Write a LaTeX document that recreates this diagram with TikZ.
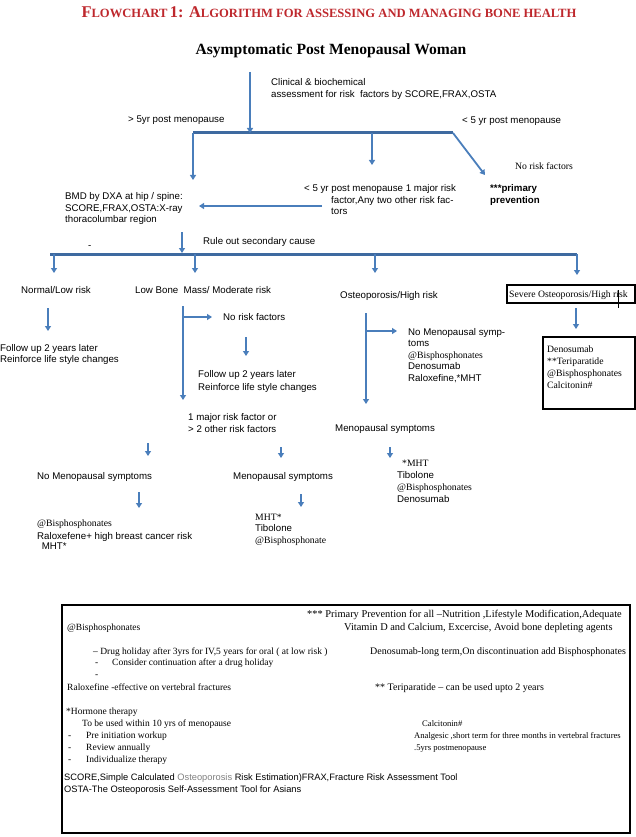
\documentclass[tikz,border=0pt]{standalone}
\usepackage{fontspec}
\setmainfont{Liberation Serif}
\setsansfont{Liberation Sans}
\usetikzlibrary{arrows.meta}
\definecolor{arrowblue}{RGB}{74,126,187}
\definecolor{barblue}{RGB}{62,106,160}
\definecolor{titlered}{RGB}{190,40,45}
\newcommand{\myfs}{\fontsize{9.7}{11}\selectfont}
\newcommand{\boxfs}{\fontsize{9.5}{11}\selectfont}
\newcommand{\boxfsL}{\fontsize{10.4}{12}\selectfont}
\newcommand{\boxfsM}{\fontsize{10}{12}\selectfont}
\newcommand{\boxfsS}{\fontsize{8.6}{11}\selectfont}
\newcommand{\bigc}[1]{{\fontsize{16.4}{17}\selectfont #1}}
\newcommand{\smc}[1]{{\fontsize{12.6}{17}\selectfont #1}}
\tikzset{
  sf/.style={inner sep=0pt, anchor=base west, font=\sffamily\myfs},
  sfb/.style={inner sep=0pt, anchor=base west, font=\sffamily\bfseries\myfs},
  rm/.style={inner sep=0pt, anchor=base west, font=\rmfamily\myfs},
  rmb/.style={inner sep=0pt, anchor=base west, font=\rmfamily\boxfs},
  rmbL/.style={inner sep=0pt, anchor=base west, font=\rmfamily\boxfsL},
  rmbM/.style={inner sep=0pt, anchor=base west, font=\rmfamily\boxfsM},
  rmbS/.style={inner sep=0pt, anchor=base west, font=\rmfamily\boxfsS},
  sfs/.style={inner sep=0pt, anchor=base west, font=\sffamily\fontsize{9.3}{11}\selectfont},
  arr/.style={draw=arrowblue, line width=1.8pt, -{Triangle[width=6pt,length=5pt]}},
  barline/.style={draw=barblue, line width=3pt},
  frame/.style={draw=black, line width=1.1pt},
}
\begin{document}
\begin{tikzpicture}[x=1pt,y=-1pt]
\useasboundingbox (0,0) rectangle (636,837);
% titles
\node[inner sep=0pt, anchor=base, text=titlered, font=\rmfamily\bfseries] (title) at (329,18)
  {\bigc{F}\smc{LOWCHART} \bigc{1: A}\smc{LGORITHM FOR ASSESSING AND MANAGING BONE HEALTH}};
\node[inner sep=0pt, anchor=base, font=\rmfamily\bfseries\fontsize{15.6}{17}\selectfont] (start) at (331,55) {Asymptomatic Post Menopausal Woman};
% coordinates
\coordinate (a0) at (250,72);
\coordinate (b1l) at (193,133);
\coordinate (b1m) at (250,133);
\coordinate (b1c) at (372,133);
\coordinate (b1r) at (453,133);
\coordinate (d1l) at (193,180);
\coordinate (d1c) at (372,165);
\coordinate (d1r) at (485,175);
\coordinate (la0) at (322,206);
\coordinate (la1) at (199,206);
\coordinate (r0) at (182,232);
\coordinate (r1) at (182,253);
\coordinate (b2l) at (50,254);
\coordinate (b2r) at (577,254);
\coordinate (k1) at (54,254);   \coordinate (k1e) at (54,273);
\coordinate (k2) at (195,254);  \coordinate (k2e) at (195,273);
\coordinate (k3) at (375,254);  \coordinate (k3e) at (375,273);
\coordinate (k4) at (577,254);  \coordinate (k4e) at (577,275);
\coordinate (n0) at (48,308);   \coordinate (n1) at (48,331);
\coordinate (lb0) at (183,306); \coordinate (lb1) at (183,400);
\coordinate (lbb) at (183,317); \coordinate (lbe) at (212,317);
\coordinate (nr0) at (246,337); \coordinate (nr1) at (246,356);
\coordinate (os0) at (366,313); \coordinate (os1) at (366,404);
\coordinate (osb) at (366,331); \coordinate (ose) at (397,331);
\coordinate (sv0) at (576,308); \coordinate (sv1) at (576,329);
\coordinate (m1a) at (148,443); \coordinate (m1b) at (148,456);
\coordinate (m2a) at (281,447); \coordinate (m2b) at (281,458);
\coordinate (m3a) at (390,447); \coordinate (m3b) at (390,458);
\coordinate (m4a) at (139,492); \coordinate (m4b) at (139,508);
\coordinate (m5a) at (301,494); \coordinate (m5b) at (301,507);
\coordinate (st0) at (618,290); \coordinate (st1) at (618,308);
% bars
\draw[barline] (b1l) -- (b1r);
\draw[barline] (b2l) -- (b2r);
% arrows
\draw[arr] (a0) -- (b1m);
\draw[arr] (b1l) -- (d1l);
\draw[arr] (b1c) -- (d1c);
\draw[arr] (b1r) -- (d1r);
\draw[arr] (la0) -- (la1);
\draw[arr] (r0) -- (r1);
\draw[arr] (k1) -- (k1e);
\draw[arr] (k2) -- (k2e);
\draw[arr] (k3) -- (k3e);
\draw[arr] (k4) -- (k4e);
\draw[arr] (n0) -- (n1);
\draw[arr] (lb0) -- (lb1);
\draw[arr] (lbb) -- (lbe);
\draw[arr] (nr0) -- (nr1);
\draw[arr] (os0) -- (os1);
\draw[arr] (osb) -- (ose);
\draw[arr] (sv0) -- (sv1);
\draw[arr] (m1a) -- (m1b);
\draw[arr] (m2a) -- (m2b);
\draw[arr] (m3a) -- (m3b);
\draw[arr] (m4a) -- (m4b);
\draw[arr] (m5a) -- (m5b);
% top texts
\node[sf] (clin1) at (271,86) {Clinical \& biochemical};
\node[sf] (clin2) at (271,98) {assessment for risk\ \ factors by SCORE,FRAX,OSTA};
\node[sf] (gt5) at (128,123) {> 5yr post menopause};
\node[sf] (lt5) at (462,124) {< 5 yr post menopause};
\node[rm] (nrf1) at (515,170) {No risk factors};
\node[sfb] (prim1) at (490,192) {***primary};
\node[sfb] (prim2) at (490,203) {prevention};
\node[sf] (maj1) at (304,192) {< 5 yr post menopause 1 major risk};
\node[sf] (maj2) at (331,203) {factor,Any two other risk fac-};
\node[sf] (maj3) at (331,214) {tors};
\node[sf] (bmd1) at (65,200) {BMD by DXA at hip / spine:};
\node[sf] (bmd2) at (65,211) {SCORE,FRAX,OSTA:X-ray};
\node[sf] (bmd3) at (65,222) {thoracolumbar region};
\node[sf] (rule) at (203,244) {Rule out secondary cause};
\node[sf] (dash) at (88,248) {-};
% level 2
\node[sf] (normal) at (21,293) {Normal/Low risk};
\node[sf] (lowbone) at (135,293) {Low Bone\ \ Mass/ Moderate risk};
\node[sf] (osteo) at (340,298) {Osteoporosis/High risk};
\draw[frame] (507,285) rectangle (635,303);
\node[rm] (severe) at (509,297) {Severe Osteoporosis/High risk};
\draw[black, line width=0.8pt] (st0) -- (st1);
\node[sf] (fu1) at (0,351) {Follow up 2 years later};
\node[sf] (fu2) at (0,362) {Reinforce life style changes};
\node[sf] (nrf2) at (223,320) {No risk factors};
\node[sf] (fu3) at (198,377) {Follow up 2 years later};
\node[sf] (fu4) at (198,390) {Reinforce life style changes};
\node[sf] (nm1) at (408,335) {No Menopausal symp-};
\node[sf] (nm2) at (408,346) {toms};
\node[rm] (nm3) at (408,358) {@Bisphosphonates};
\node[sf] (nm4) at (408,369) {Denosumab};
\node[sf] (nm5) at (408,381) {Raloxefine,*MHT};
\draw[frame] (543,337) rectangle (635,409);
\node[rm] (sb1) at (547,352) {Denosumab};
\node[rm] (sb2) at (547,364) {**Teriparatide};
\node[rm] (sb3) at (547,376) {@Bisphosphonates};
\node[rm] (sb4) at (547,388) {Calcitonin\#};
\node[sf] (mj1) at (188,420) {1 major risk factor or};
\node[sf] (mj2) at (188,432) {> 2 other risk factors};
\node[sf] (menoR) at (335,431) {Menopausal symptoms};
\node[rm] (rmht) at (402,466) {*MHT};
\node[sf] (rtib) at (397,478) {Tibolone};
\node[rm] (rbis) at (397,490) {@Bisphosphonates};
\node[sf] (rden) at (397,502) {Denosumab};
\node[sf] (nomenL) at (37,479) {No Menopausal symptoms};
\node[sf] (menoM) at (233,479) {Menopausal symptoms};
\node[rm] (lb1t) at (37,526) {@Bisphosphonates};
\node[sf] (lb2t) at (37,539) {Raloxefene+ high breast cancer risk};
\node[sf] (lb3t) at (39,549) {\ MHT*};
\node[rm] (mm1) at (255,520) {MHT*};
\node[sf] (mm2) at (255,531) {Tibolone};
\node[rm] (mm3) at (255,543) {@Bisphosphonate};
% bottom box
\draw[frame] (62,605) rectangle (630,833);
\node[rmbL] (p1) at (307,617) {*** Primary Prevention for all --Nutrition ,Lifestyle Modification,Adequate};
\node[rmb] (p2) at (67,630) {@Bisphosphonates};
\node[rmbL] (p3) at (344,630) {Vitamin D and Calcium, Excercise, Avoid bone depleting agents};
\node[rmb] (p4) at (93,654) {-- Drug holiday after 3yrs for IV,5 years for oral ( at low risk )};
\node[rmbM] (p5) at (370,654) {Denosumab-long term,On discontinuation add Bisphosphonates};
\node[rmb] (p6a) at (95,665) {-};
\node[rmb] (p6) at (112,665) {Consider continuation after a drug holiday};
\node[rmb] (p7) at (95,677) {-};
\node[rmb] (p8) at (67,690) {Raloxefine -effective on vertebral fractures};
\node[rmbM] (p9) at (375,690) {** Teriparatide -- can be used upto 2 years};
\node[rmb] (h1) at (66,714) {*Hormone therapy};
\node[rmb] (h2) at (82,726) {To be used within 10 yrs of menopause};
\node[rmbS] (c1) at (422,726) {Calcitonin\#};
\node[rmb] (h3a) at (68,738) {-};
\node[rmb] (h3) at (86,738) {Pre initiation workup};
\node[rmbS] (c2) at (414,738) {Analgesic ,short term for three months in vertebral fractures};
\node[rmb] (h4a) at (68,750) {-};
\node[rmb] (h4) at (86,750) {Review annually};
\node[rmbS] (c3) at (414,750) {.5yrs postmenopause};
\node[rmb] (h5a) at (68,762) {-};
\node[rmb] (h5) at (86,762) {Individualize therapy};
\node[sfs] (s1) at (64,780) {SCORE,Simple Calculated \textcolor{gray}{Osteoporosis} Risk Estimation)FRAX,Fracture Risk Assessment Tool};
\node[sfs] (s2) at (64,792) {OSTA-The Osteoporosis Self-Assessment Tool for Asians};
\end{tikzpicture}
\end{document}
